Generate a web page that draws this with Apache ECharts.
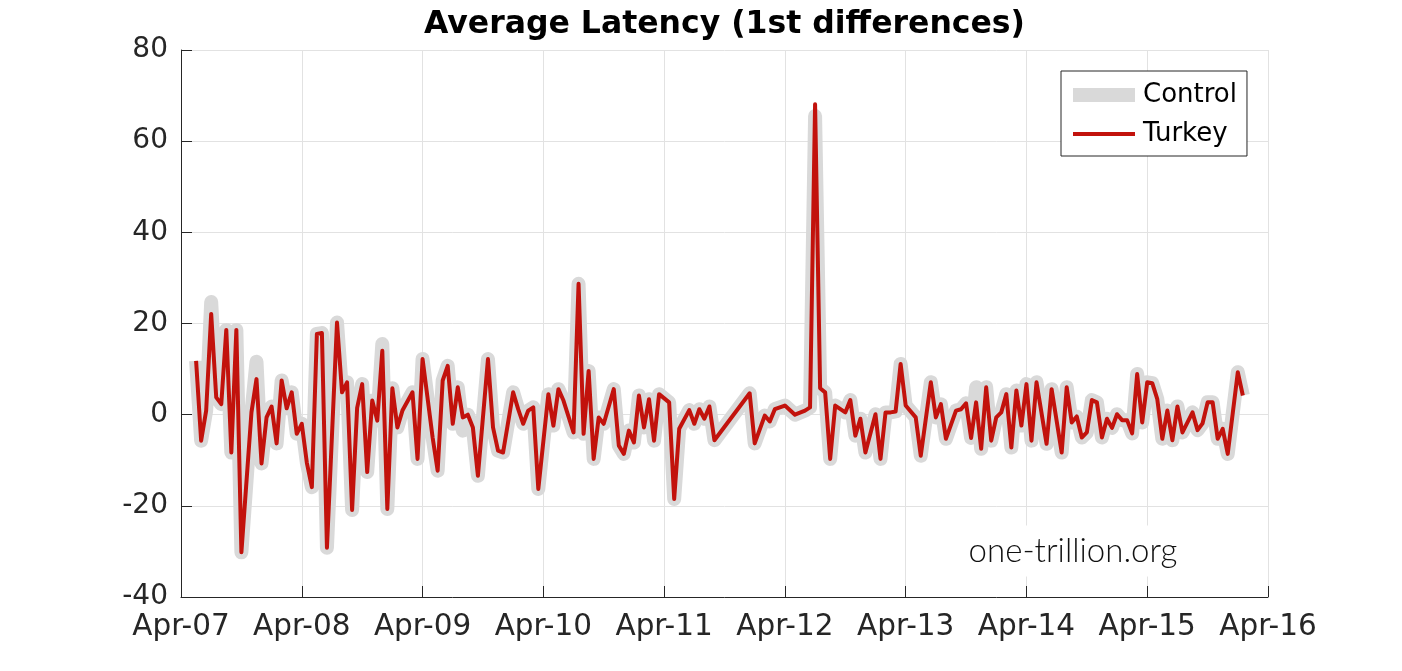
<!DOCTYPE html>
<html>
<head>
<meta charset="utf-8">
<script src="https://cdn.jsdelivr.net/npm/echarts@6/dist/echarts.min.js"></script>
<style>
html,body{margin:0;padding:0;background:#fff;}
#chart{width:1402px;height:671px;}
</style>
</head>
<body>
<div id="chart"></div>
<script>
// x: months since April 2007 (semi-monthly samples)
var months = [
  1.5, 2.0, 2.5, 3.0, 3.5, 4.0, 4.5, 5.0, 5.5, 6.0, 7.0, 7.5, 8.0, 8.5, 9.0, 9.5, 10.0, 10.5, 11.0, 11.5,
  12.0, 12.5, 13.0, 13.5, 14.0, 14.5, 15.5, 16.0, 16.5, 17.0, 17.5, 18.0, 18.5, 19.0, 19.5, 20.0, 20.5, 21.0, 21.5, 22.0,
  23.0, 23.5, 24.0, 25.0, 25.5, 26.0, 26.5, 27.0, 27.5, 28.0, 28.5, 29.0, 29.5, 30.5, 31.0, 31.5, 32.0, 33.0, 33.5, 34.0,
  34.5, 35.0, 35.5, 36.5, 37.0, 37.5, 38.0, 39.0, 39.5, 40.0, 40.5, 41.0, 41.5, 42.0, 43.0, 43.5, 44.0, 44.5, 45.0, 45.5,
  46.0, 46.5, 47.0, 47.5, 48.5, 49.0, 49.5, 50.5, 51.0, 51.5, 52.0, 52.5, 53.0, 56.5, 57.0, 58.0, 58.5, 59.0, 60.0, 61.0,
  62.0, 62.5, 63.0, 63.5, 64.0, 64.5, 65.0, 66.0, 66.5, 67.0, 67.5, 68.0, 69.0, 69.5, 70.0, 70.5, 71.0, 71.5, 72.0, 73.0,
  73.5, 74.5, 75.0, 75.5, 76.0, 77.0, 77.5, 78.0, 78.5, 79.0, 79.5, 80.0, 80.5, 81.0, 81.5, 82.0, 82.5, 83.0, 83.5, 84.0,
  84.5, 85.0, 86.0, 86.5, 87.5, 88.0, 88.5, 89.0, 89.5, 90.0, 90.5, 91.0, 91.5, 92.0, 92.5, 93.0, 93.5, 94.0, 94.5, 95.0,
  95.5, 96.0, 96.5, 97.0, 97.5, 98.0, 98.5, 99.0, 99.5, 100.5, 101.0, 101.5, 102.0, 102.5, 103.0, 103.5, 104.0, 105.0, 105.5
];
var turkey = [
  11.8, -5.7, 0.9, 22.1, 3.8, 2.3, 18.6, -8.3, 18.6, -30.2, 0.5, 7.8, -10.7, -0.6, 1.8, -6.3, 7.5, 1.4, 4.9, -4.2,
  -2.0, -10.5, -15.9, 17.7, 17.9, -29.2, 20.2, 4.9, 7.1, -20.9, 1.5, 6.7, -12.6, 3.1, -1.3, 14.0, -20.7, 5.8, -2.8, 0.9,
  4.9, -9.7, 12.2, -5.0, -12.3, 7.5, 10.7, -2.0, 6.0, -0.6, 0.0, -2.8, -13.4, 12.2, -2.8, -7.9, -8.3, 4.9, 1.2, -2.0,
  0.9, 1.6, -16.3, 4.5, -2.4, 5.6, 3.1, -3.9, 28.7, -4.2, 9.6, -9.7, -0.6, -2.0, 5.6, -6.8, -8.6, -3.5, -6.1, 4.2,
  -2.8, 3.4, -5.7, 4.5, 2.7, -18.5, -3.1, 1.0, -2.0, 1.2, -0.9, 1.8, -5.6, 4.7, -6.3, -0.2, -1.5, 1.2, 2.0, 0.0,
  0.9, 1.6, 68.1, 5.8, 4.9, -9.7, 2.0, 0.5, 3.2, -4.6, -0.9, -8.3, 0.1, -9.7, 0.5, 0.5, 0.7, 11.1, 2.0, -0.6,
  -9.0, 7.1, -0.6, 2.3, -5.3, 0.9, 1.2, 2.5, -5.1, 2.7, -7.5, 6.0, -5.7, -0.6, 0.5, 4.5, -7.2, 5.3, -2.4, 6.7,
  -5.7, 7.1, -6.4, 5.6, -8.3, 6.0, -1.7, -0.4, -5.0, -3.9, 3.2, 2.7, -5.0, -0.9, -2.9, 0.1, -1.2, -1.2, -4.1, 8.9,
  -1.7, 7.1, 6.9, 3.4, -5.3, 0.9, -5.6, 1.8, -3.9, 0.5, -3.4, -1.9, 2.7, 2.7, -5.3, -3.1, -8.6, 9.3, 4.2
];
var control = [
  11.8, -5.7, 0.9, 24.7, 3.8, 2.3, 18.6, -8.3, 18.6, -30.2, 0.5, 11.6, -10.7, -0.6, 1.8, -6.3, 7.5, 1.4, 4.9, -4.2,
  -2.0, -10.5, -15.9, 17.7, 17.9, -29.2, 20.2, 4.9, 7.1, -20.9, 1.5, 6.7, -12.6, 3.1, -1.3, 15.5, -20.7, 5.8, -2.8, 0.9,
  4.9, -9.7, 12.2, -5.0, -12.3, 7.5, 10.7, -2.0, 6.0, -3.5, 0.0, -2.8, -13.4, 12.2, -2.8, -7.9, -8.3, 4.9, 1.2, -2.0,
  0.9, 1.6, -16.3, 4.5, -2.4, 5.6, 3.1, -3.9, 28.7, -4.2, 9.6, -9.7, -0.6, -2.0, 5.6, -6.8, -8.6, -3.5, -6.1, 4.2,
  -2.8, 3.4, -5.7, 4.5, 2.7, -18.5, -3.1, 1.0, -2.0, 1.2, -0.9, 1.8, -5.6, 4.7, -6.3, -0.2, -1.5, 1.2, 2.0, 0.0,
  0.9, 1.6, 65.5, 5.8, 4.9, -9.7, 2.0, 0.5, 3.2, -4.6, -0.9, -8.3, 0.1, -9.7, 0.5, 0.5, 0.7, 11.1, 2.0, -0.6,
  -9.0, 7.1, -0.6, 2.3, -5.3, 0.9, 1.2, 2.5, -5.1, 6.0, -7.5, 6.0, -5.7, -0.6, 0.5, 4.5, -7.2, 5.3, -2.4, 6.7,
  -5.7, 7.1, -6.4, 5.6, -8.3, 6.0, -1.7, -0.4, -5.0, -3.9, 3.2, 2.7, -5.0, -0.9, -2.9, 0.1, -1.2, -1.2, -4.1, 8.9,
  -1.7, 7.1, 6.9, 3.4, -5.3, 0.9, -5.6, 1.8, -3.9, 0.5, -3.4, -1.9, 2.7, 2.7, -5.3, -3.1, -8.6, 9.3, 4.2
];
var xTickLabels = ['Apr-07','Apr-08','Apr-09','Apr-10','Apr-11','Apr-12','Apr-13','Apr-14','Apr-15','Apr-16'];
var yTicks = [-40, -20, 0, 20, 40, 60, 80];

function pairs(xs, ys){ return xs.map(function(x,i){ return [x, ys[i]]; }); }

var FONT = 'DejaVu Sans';
var AX = '#262626';
var chart = echarts.init(document.getElementById('chart'), null, {renderer:'canvas'});
chart.setOption({
  animation: false,
  backgroundColor: '#ffffff',
  title: {
    text: 'Average Latency (1st differences)',
    left: 724.5, top: 9, padding: 0, textAlign: 'center',
    textStyle: {fontFamily: FONT, fontSize: 31.5, fontWeight: 'bold', color: '#000'}
  },
  grid: {left: 181, right: 134, top: 50, bottom: 74, containLabel: false},
  xAxis: {
    type: 'value', min: 0, max: 108, interval: 12,
    axisLine: {show: true, onZero: false, lineStyle: {color: AX, width: 1}},
    axisTick: {show: true, inside: true, length: 11, lineStyle: {color: AX}},
    axisLabel: {margin: 15, fontFamily: FONT, fontSize: 29.5, color: AX,
      formatter: function(v){ return xTickLabels[Math.round(v/12)]; }},
    splitLine: {show: true, lineStyle: {color: '#e2e2e2', width: 1}}
  },
  yAxis: {
    type: 'value', min: yTicks[0], max: yTicks[yTicks.length-1], interval: 20,
    axisLine: {show: true, onZero: false, lineStyle: {color: AX, width: 1}},
    axisTick: {show: true, inside: true, length: 11, lineStyle: {color: AX}},
    axisLabel: {margin: 13, fontFamily: FONT, fontSize: 28, color: AX},
    splitLine: {show: true, lineStyle: {color: '#e2e2e2', width: 1}}
  },
  legend: {
    orient: 'vertical', left: 1061, top: 71,
    itemWidth: 62, itemHeight: 14, itemGap: 7,
    padding: [8, 10, 6, 12],
    borderColor: AX, borderWidth: 1, backgroundColor: '#fff', borderRadius: 0,
    itemStyle: {borderWidth: 0},
    textStyle: {fontFamily: FONT, fontSize: 26, color: '#000', lineHeight: 30, padding: [2,0,0,3]},
    data: [
      {name: 'Control', icon: 'rect'},
      {name: 'Turkey', icon: 'path://M0,0H62V4H0Z'}
    ]
  },
  series: [
    {name: 'Control', type: 'line', data: pairs(months, control), symbol: 'none', showSymbol: false,
      itemStyle: {color: '#d9d9d9'},
      lineStyle: {color: '#d9d9d9', width: 14, join: 'round', cap: 'butt'}, z: 2},
    {name: 'Turkey', type: 'line', data: pairs(months, turkey), symbol: 'none', showSymbol: false,
      itemStyle: {color: '#c2120c'},
      lineStyle: {color: '#c2120c', width: 4, join: 'round', cap: 'butt'}, z: 3}
  ],
  graphic: [{
    type: 'text', x: 1073, y: 551, z: 1, zlevel: 0,
    style: {text: 'one-trillion.org', fontFamily: 'Lato', fontWeight: 300, fontSize: 33, fill: '#111',
      align: 'center', verticalAlign: 'middle', backgroundColor: '#fff', padding: [9, 12, 9, 12]}
  }]
});
</script>
</body>
</html>
